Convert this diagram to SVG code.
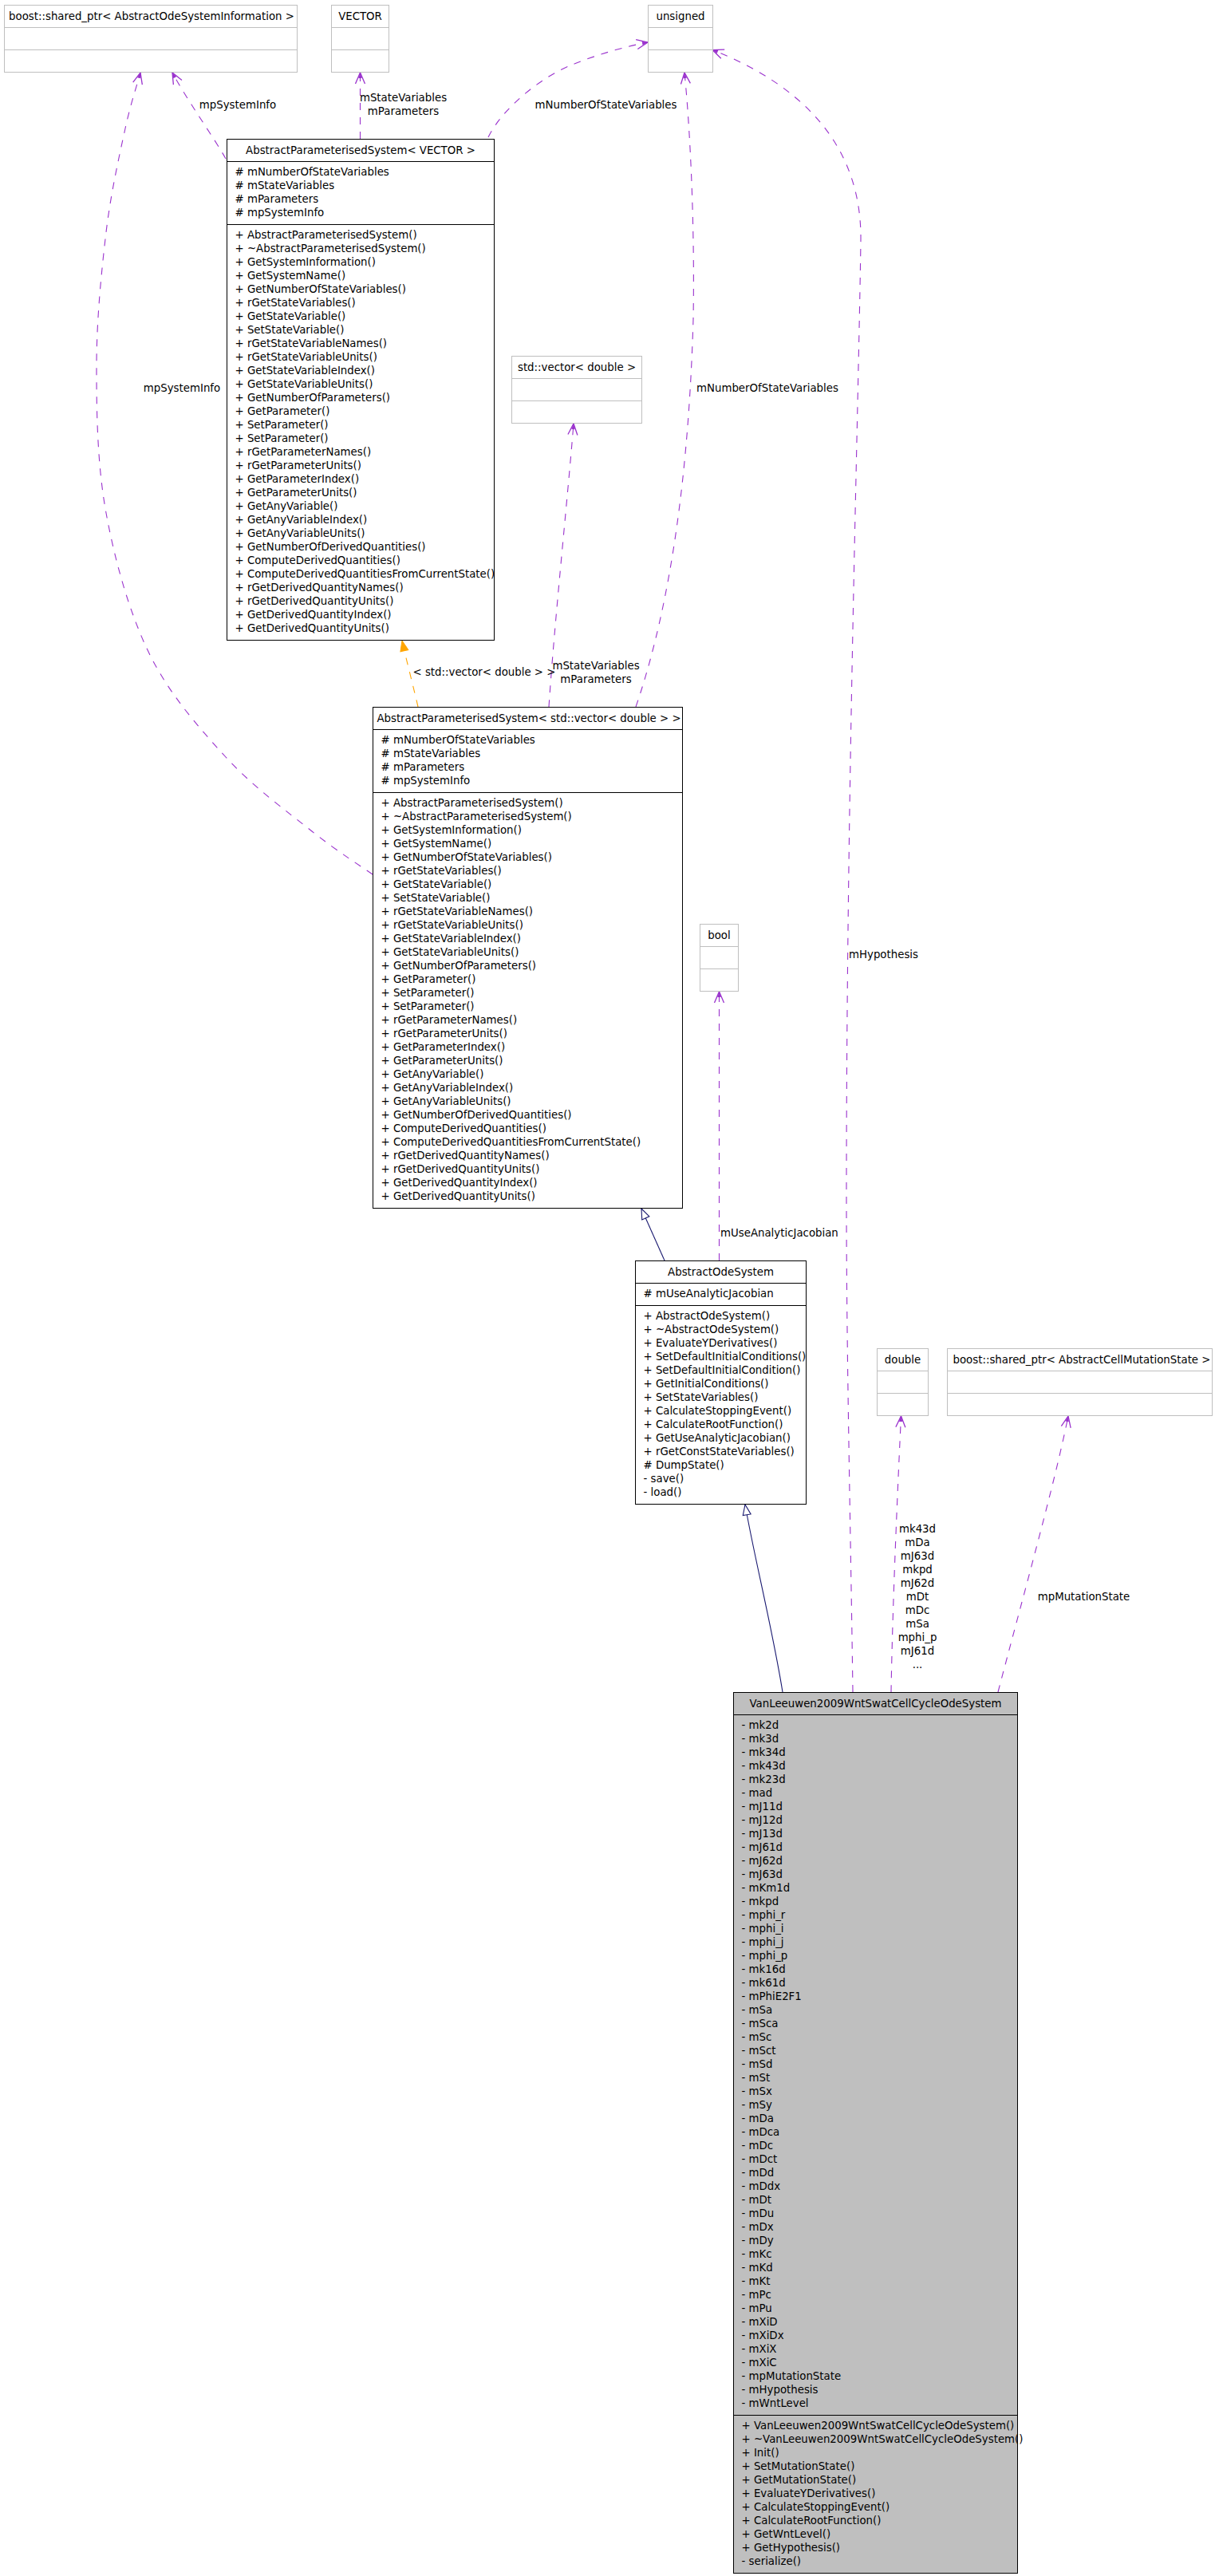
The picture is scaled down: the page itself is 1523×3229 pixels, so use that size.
<svg xmlns="http://www.w3.org/2000/svg" width="1523" height="3229" viewBox="0 0 1523 3229">
<style>
.t{font-family:"DejaVu Sans","Liberation Sans",sans-serif;font-size:13.33px;fill:#000}
.c{text-anchor:middle}
.box{fill:#fff;stroke:#000;stroke-width:1}
.main{fill:#bfbfbf;stroke:#000;stroke-width:1}
.gbox{fill:#fff;stroke:#bfbfbf;stroke-width:1}
.sep{stroke:#000;stroke-width:1}
.gsep{stroke:#bfbfbf;stroke-width:1}
.use{fill:none;stroke:#9a32cd;stroke-width:1.1;stroke-dasharray:9,9;marker-end:url(#mOpen)}
.inh{fill:none;stroke:#191970;stroke-width:1.1;marker-end:url(#mInh)}
.tpl{fill:none;stroke:#ffa500;stroke-width:1.1;stroke-dasharray:9,9;marker-end:url(#mTpl)}
</style>
<defs>
<marker id="mOpen" markerUnits="userSpaceOnUse" orient="auto" markerWidth="30" markerHeight="20" viewBox="-20 -10 30 20" refX="0" refY="0" overflow="visible">
<path d="M-14,-6 L0,0 L-14,6" fill="none" stroke="#9a32cd" stroke-width="1.3"/>
<path d="M-7,-2.2 L0,0 L-7,2.2 Z" fill="#9a32cd" stroke="none"/>
</marker>
<marker id="mInh" markerUnits="userSpaceOnUse" orient="auto" markerWidth="30" markerHeight="20" viewBox="-20 -10 30 20" refX="0" refY="0" overflow="visible">
<path d="M-13,-5 L0,0 L-13,5 Z" fill="#fff" stroke="#191970" stroke-width="1.1"/>
</marker>
<marker id="mTpl" markerUnits="userSpaceOnUse" orient="auto" markerWidth="30" markerHeight="20" viewBox="-20 -10 30 20" refX="0" refY="0" overflow="visible">
<path d="M-13,-5 L0,0 L-13,5 Z" fill="#ffa500" stroke="#ffa500" stroke-width="1"/>
</marker>
</defs>
<rect width="1523" height="3229" fill="#fff"/>

<g id="connectors">
<path class="use" d="M283,199 C268,172 236,128 216,91"/>
<path class="use" d="M467,1096 C454.3,1087 421.7,1066.5 391,1042 C360.3,1017.5 317,986.2 283,949 C249,911.8 212,870 187,819 C162,768 144,702.8 133,643 C122,583.2 121,518.7 121,460 C121,401.3 127,341.8 133,291 C139,241.2 149.8,194.2 157,161 C164.2,127.8 172.8,103.5 176,91"/>
<path class="use" d="M451.5,174 L451.5,91"/>
<path class="use" d="M612,172 C630,135 680,95 720,80 C750,68 785,58 812,53"/>
<path class="use" d="M797,886 C830,790 862,640 869,400 C871,280 865,160 858,91"/>
<path class="use" d="M1069,2121 C1066,1900 1061,1700 1061,1500 C1061,1000 1076,520 1079,300 C1080,160 975,95 893,62.5"/>
<path class="use" d="M1117,2121 C1119,2000 1126,1850 1129.5,1775"/>
<path class="use" d="M1251,2121 C1280,2010 1322,1860 1339,1775"/>
<path class="use" d="M901.5,1580 L901.5,1243"/>
<path class="inh" d="M833,1580 L804,1515"/>
<path class="inh" d="M981,2121 C968,2040 945,1950 934,1886"/>
<path class="tpl" d="M524,886 C518,860 510,830 504,803"/>
<path class="use" d="M688,886 C695,780 712,620 719,531"/>
<text class="t c" x="298" y="135.5">mpSystemInfo</text>
<text class="t c" x="228" y="491">mpSystemInfo</text>
<text class="t c" x="505.5" y="127">mStateVariables<tspan x="505.5" dy="17">mParameters</tspan></text>
<text class="t c" x="759.5" y="135.5">mNumberOfStateVariables</text>
<text class="t" x="873" y="491">mNumberOfStateVariables</text>
<text class="t" x="1064" y="1200.5">mHypothesis</text>
<text class="t c" x="1150" y="1921">mk43d<tspan x="1150" dy="17">mDa</tspan><tspan x="1150" dy="17">mJ63d</tspan><tspan x="1150" dy="17">mkpd</tspan><tspan x="1150" dy="17">mJ62d</tspan><tspan x="1150" dy="17">mDt</tspan><tspan x="1150" dy="17">mDc</tspan><tspan x="1150" dy="17">mSa</tspan><tspan x="1150" dy="17">mphi_p</tspan><tspan x="1150" dy="17">mJ61d</tspan><tspan x="1150" dy="17">...</tspan></text>
<text class="t c" x="1358.5" y="2006">mpMutationState</text>
<text class="t" x="903" y="1550">mUseAnalyticJacobian</text>
<text class="t" x="517.5" y="847">&lt; std::vector&lt; double &gt; &gt;</text>
<text class="t c" x="747" y="839">mStateVariables<tspan x="747" dy="17">mParameters</tspan></text>
</g>

<g id="boostOdeSystemInformation">
<rect class="gbox" x="5.5" y="6.5" width="367" height="84"/>
<line class="gsep" x1="5.5" y1="34.5" x2="372.5" y2="34.5"/>
<line class="gsep" x1="5.5" y1="62.5" x2="372.5" y2="62.5"/>
<text class="t c" x="190" y="25">boost::shared_ptr&lt; AbstractOdeSystemInformation &gt;</text>
</g>

<g id="VECTOR">
<rect class="gbox" x="415.5" y="6.5" width="72" height="84"/>
<line class="gsep" x1="415.5" y1="34.5" x2="487.5" y2="34.5"/>
<line class="gsep" x1="415.5" y1="62.5" x2="487.5" y2="62.5"/>
<text class="t c" x="451.5" y="25">VECTOR</text>
</g>

<g id="unsigned">
<rect class="gbox" x="812.5" y="6.5" width="81" height="84"/>
<line class="gsep" x1="812.5" y1="34.5" x2="893.5" y2="34.5"/>
<line class="gsep" x1="812.5" y1="62.5" x2="893.5" y2="62.5"/>
<text class="t c" x="853" y="25">unsigned</text>
</g>

<g id="stdVectorDouble">
<rect class="gbox" x="641.5" y="446.5" width="163" height="84"/>
<line class="gsep" x1="641.5" y1="474.5" x2="804.5" y2="474.5"/>
<line class="gsep" x1="641.5" y1="502.5" x2="804.5" y2="502.5"/>
<text class="t c" x="723" y="465">std::vector&lt; double &gt;</text>
</g>

<g id="bool">
<rect class="gbox" x="877.5" y="1158.5" width="48" height="84"/>
<line class="gsep" x1="877.5" y1="1186.5" x2="925.5" y2="1186.5"/>
<line class="gsep" x1="877.5" y1="1214.5" x2="925.5" y2="1214.5"/>
<text class="t c" x="901.5" y="1177">bool</text>
</g>

<g id="double">
<rect class="gbox" x="1099.5" y="1690.5" width="64" height="84"/>
<line class="gsep" x1="1099.5" y1="1718.5" x2="1163.5" y2="1718.5"/>
<line class="gsep" x1="1099.5" y1="1746.5" x2="1163.5" y2="1746.5"/>
<text class="t c" x="1131.5" y="1709">double</text>
</g>

<g id="boostCellMutationState">
<rect class="gbox" x="1187.5" y="1690.5" width="332" height="84"/>
<line class="gsep" x1="1187.5" y1="1718.5" x2="1519.5" y2="1718.5"/>
<line class="gsep" x1="1187.5" y1="1746.5" x2="1519.5" y2="1746.5"/>
<text class="t c" x="1356" y="1709">boost::shared_ptr&lt; AbstractCellMutationState &gt;</text>
</g>

<g id="AbstractParameterisedSystemVECTOR">
<rect class="box" x="284.5" y="174.5" width="335" height="628"/>
<line class="sep" x1="284.5" y1="202.5" x2="619.5" y2="202.5"/>
<line class="sep" x1="284.5" y1="281.5" x2="619.5" y2="281.5"/>
<text class="t c" x="452" y="193">AbstractParameterisedSystem&lt; VECTOR &gt;</text>
<text class="t" x="294.5" y="220"><tspan x="294.5" dy="0"># mNumberOfStateVariables</tspan><tspan x="294.5" dy="17"># mStateVariables</tspan><tspan x="294.5" dy="17"># mParameters</tspan><tspan x="294.5" dy="17"># mpSystemInfo</tspan></text>
<text class="t" x="294.5" y="299"><tspan x="294.5" dy="0">+ AbstractParameterisedSystem()</tspan><tspan x="294.5" dy="17">+ ~AbstractParameterisedSystem()</tspan><tspan x="294.5" dy="17">+ GetSystemInformation()</tspan><tspan x="294.5" dy="17">+ GetSystemName()</tspan><tspan x="294.5" dy="17">+ GetNumberOfStateVariables()</tspan><tspan x="294.5" dy="17">+ rGetStateVariables()</tspan><tspan x="294.5" dy="17">+ GetStateVariable()</tspan><tspan x="294.5" dy="17">+ SetStateVariable()</tspan><tspan x="294.5" dy="17">+ rGetStateVariableNames()</tspan><tspan x="294.5" dy="17">+ rGetStateVariableUnits()</tspan><tspan x="294.5" dy="17">+ GetStateVariableIndex()</tspan><tspan x="294.5" dy="17">+ GetStateVariableUnits()</tspan><tspan x="294.5" dy="17">+ GetNumberOfParameters()</tspan><tspan x="294.5" dy="17">+ GetParameter()</tspan><tspan x="294.5" dy="17">+ SetParameter()</tspan><tspan x="294.5" dy="17">+ SetParameter()</tspan><tspan x="294.5" dy="17">+ rGetParameterNames()</tspan><tspan x="294.5" dy="17">+ rGetParameterUnits()</tspan><tspan x="294.5" dy="17">+ GetParameterIndex()</tspan><tspan x="294.5" dy="17">+ GetParameterUnits()</tspan><tspan x="294.5" dy="17">+ GetAnyVariable()</tspan><tspan x="294.5" dy="17">+ GetAnyVariableIndex()</tspan><tspan x="294.5" dy="17">+ GetAnyVariableUnits()</tspan><tspan x="294.5" dy="17">+ GetNumberOfDerivedQuantities()</tspan><tspan x="294.5" dy="17">+ ComputeDerivedQuantities()</tspan><tspan x="294.5" dy="17">+ ComputeDerivedQuantitiesFromCurrentState()</tspan><tspan x="294.5" dy="17">+ rGetDerivedQuantityNames()</tspan><tspan x="294.5" dy="17">+ rGetDerivedQuantityUnits()</tspan><tspan x="294.5" dy="17">+ GetDerivedQuantityIndex()</tspan><tspan x="294.5" dy="17">+ GetDerivedQuantityUnits()</tspan></text>
</g>

<g id="AbstractParameterisedSystemStdVector">
<rect class="box" x="467.5" y="886.5" width="388" height="628"/>
<line class="sep" x1="467.5" y1="914.5" x2="855.5" y2="914.5"/>
<line class="sep" x1="467.5" y1="993.5" x2="855.5" y2="993.5"/>
<text class="t c" x="663" y="905">AbstractParameterisedSystem&lt; std::vector&lt; double &gt; &gt;</text>
<text class="t" x="477.5" y="932"><tspan x="477.5" dy="0"># mNumberOfStateVariables</tspan><tspan x="477.5" dy="17"># mStateVariables</tspan><tspan x="477.5" dy="17"># mParameters</tspan><tspan x="477.5" dy="17"># mpSystemInfo</tspan></text>
<text class="t" x="477.5" y="1011"><tspan x="477.5" dy="0">+ AbstractParameterisedSystem()</tspan><tspan x="477.5" dy="17">+ ~AbstractParameterisedSystem()</tspan><tspan x="477.5" dy="17">+ GetSystemInformation()</tspan><tspan x="477.5" dy="17">+ GetSystemName()</tspan><tspan x="477.5" dy="17">+ GetNumberOfStateVariables()</tspan><tspan x="477.5" dy="17">+ rGetStateVariables()</tspan><tspan x="477.5" dy="17">+ GetStateVariable()</tspan><tspan x="477.5" dy="17">+ SetStateVariable()</tspan><tspan x="477.5" dy="17">+ rGetStateVariableNames()</tspan><tspan x="477.5" dy="17">+ rGetStateVariableUnits()</tspan><tspan x="477.5" dy="17">+ GetStateVariableIndex()</tspan><tspan x="477.5" dy="17">+ GetStateVariableUnits()</tspan><tspan x="477.5" dy="17">+ GetNumberOfParameters()</tspan><tspan x="477.5" dy="17">+ GetParameter()</tspan><tspan x="477.5" dy="17">+ SetParameter()</tspan><tspan x="477.5" dy="17">+ SetParameter()</tspan><tspan x="477.5" dy="17">+ rGetParameterNames()</tspan><tspan x="477.5" dy="17">+ rGetParameterUnits()</tspan><tspan x="477.5" dy="17">+ GetParameterIndex()</tspan><tspan x="477.5" dy="17">+ GetParameterUnits()</tspan><tspan x="477.5" dy="17">+ GetAnyVariable()</tspan><tspan x="477.5" dy="17">+ GetAnyVariableIndex()</tspan><tspan x="477.5" dy="17">+ GetAnyVariableUnits()</tspan><tspan x="477.5" dy="17">+ GetNumberOfDerivedQuantities()</tspan><tspan x="477.5" dy="17">+ ComputeDerivedQuantities()</tspan><tspan x="477.5" dy="17">+ ComputeDerivedQuantitiesFromCurrentState()</tspan><tspan x="477.5" dy="17">+ rGetDerivedQuantityNames()</tspan><tspan x="477.5" dy="17">+ rGetDerivedQuantityUnits()</tspan><tspan x="477.5" dy="17">+ GetDerivedQuantityIndex()</tspan><tspan x="477.5" dy="17">+ GetDerivedQuantityUnits()</tspan></text>
</g>

<g id="AbstractOdeSystem">
<rect class="box" x="796.5" y="1580.5" width="214" height="305"/>
<line class="sep" x1="796.5" y1="1608.5" x2="1010.5" y2="1608.5"/>
<line class="sep" x1="796.5" y1="1636.5" x2="1010.5" y2="1636.5"/>
<text class="t c" x="903.5" y="1599">AbstractOdeSystem</text>
<text class="t" x="806.5" y="1626"># mUseAnalyticJacobian</text>
<text class="t" x="806.5" y="1654"><tspan x="806.5" dy="0">+ AbstractOdeSystem()</tspan><tspan x="806.5" dy="17">+ ~AbstractOdeSystem()</tspan><tspan x="806.5" dy="17">+ EvaluateYDerivatives()</tspan><tspan x="806.5" dy="17">+ SetDefaultInitialConditions()</tspan><tspan x="806.5" dy="17">+ SetDefaultInitialCondition()</tspan><tspan x="806.5" dy="17">+ GetInitialConditions()</tspan><tspan x="806.5" dy="17">+ SetStateVariables()</tspan><tspan x="806.5" dy="17">+ CalculateStoppingEvent()</tspan><tspan x="806.5" dy="17">+ CalculateRootFunction()</tspan><tspan x="806.5" dy="17">+ GetUseAnalyticJacobian()</tspan><tspan x="806.5" dy="17">+ rGetConstStateVariables()</tspan><tspan x="806.5" dy="17"># DumpState()</tspan><tspan x="806.5" dy="17">- save()</tspan><tspan x="806.5" dy="17">- load()</tspan></text>
</g>

<g id="VanLeeuwen2009WntSwatCellCycleOdeSystem">
<rect class="main" x="919.5" y="2121.5" width="356" height="1104"/>
<line class="sep" x1="919.5" y1="2149.5" x2="1275.5" y2="2149.5"/>
<line class="sep" x1="919.5" y1="3027.5" x2="1275.5" y2="3027.5"/>
<text class="t c" x="1097.5" y="2140">VanLeeuwen2009WntSwatCellCycleOdeSystem</text>
<text class="t" x="929.5" y="2167"><tspan x="929.5" dy="0">- mk2d</tspan><tspan x="929.5" dy="17">- mk3d</tspan><tspan x="929.5" dy="17">- mk34d</tspan><tspan x="929.5" dy="17">- mk43d</tspan><tspan x="929.5" dy="17">- mk23d</tspan><tspan x="929.5" dy="17">- mad</tspan><tspan x="929.5" dy="17">- mJ11d</tspan><tspan x="929.5" dy="17">- mJ12d</tspan><tspan x="929.5" dy="17">- mJ13d</tspan><tspan x="929.5" dy="17">- mJ61d</tspan><tspan x="929.5" dy="17">- mJ62d</tspan><tspan x="929.5" dy="17">- mJ63d</tspan><tspan x="929.5" dy="17">- mKm1d</tspan><tspan x="929.5" dy="17">- mkpd</tspan><tspan x="929.5" dy="17">- mphi_r</tspan><tspan x="929.5" dy="17">- mphi_i</tspan><tspan x="929.5" dy="17">- mphi_j</tspan><tspan x="929.5" dy="17">- mphi_p</tspan><tspan x="929.5" dy="17">- mk16d</tspan><tspan x="929.5" dy="17">- mk61d</tspan><tspan x="929.5" dy="17">- mPhiE2F1</tspan><tspan x="929.5" dy="17">- mSa</tspan><tspan x="929.5" dy="17">- mSca</tspan><tspan x="929.5" dy="17">- mSc</tspan><tspan x="929.5" dy="17">- mSct</tspan><tspan x="929.5" dy="17">- mSd</tspan><tspan x="929.5" dy="17">- mSt</tspan><tspan x="929.5" dy="17">- mSx</tspan><tspan x="929.5" dy="17">- mSy</tspan><tspan x="929.5" dy="17">- mDa</tspan><tspan x="929.5" dy="17">- mDca</tspan><tspan x="929.5" dy="17">- mDc</tspan><tspan x="929.5" dy="17">- mDct</tspan><tspan x="929.5" dy="17">- mDd</tspan><tspan x="929.5" dy="17">- mDdx</tspan><tspan x="929.5" dy="17">- mDt</tspan><tspan x="929.5" dy="17">- mDu</tspan><tspan x="929.5" dy="17">- mDx</tspan><tspan x="929.5" dy="17">- mDy</tspan><tspan x="929.5" dy="17">- mKc</tspan><tspan x="929.5" dy="17">- mKd</tspan><tspan x="929.5" dy="17">- mKt</tspan><tspan x="929.5" dy="17">- mPc</tspan><tspan x="929.5" dy="17">- mPu</tspan><tspan x="929.5" dy="17">- mXiD</tspan><tspan x="929.5" dy="17">- mXiDx</tspan><tspan x="929.5" dy="17">- mXiX</tspan><tspan x="929.5" dy="17">- mXiC</tspan><tspan x="929.5" dy="17">- mpMutationState</tspan><tspan x="929.5" dy="17">- mHypothesis</tspan><tspan x="929.5" dy="17">- mWntLevel</tspan></text>
<text class="t" x="929.5" y="3045"><tspan x="929.5" dy="0">+ VanLeeuwen2009WntSwatCellCycleOdeSystem()</tspan><tspan x="929.5" dy="17">+ ~VanLeeuwen2009WntSwatCellCycleOdeSystem()</tspan><tspan x="929.5" dy="17">+ Init()</tspan><tspan x="929.5" dy="17">+ SetMutationState()</tspan><tspan x="929.5" dy="17">+ GetMutationState()</tspan><tspan x="929.5" dy="17">+ EvaluateYDerivatives()</tspan><tspan x="929.5" dy="17">+ CalculateStoppingEvent()</tspan><tspan x="929.5" dy="17">+ CalculateRootFunction()</tspan><tspan x="929.5" dy="17">+ GetWntLevel()</tspan><tspan x="929.5" dy="17">+ GetHypothesis()</tspan><tspan x="929.5" dy="17">- serialize()</tspan></text>
</g>
</svg>
